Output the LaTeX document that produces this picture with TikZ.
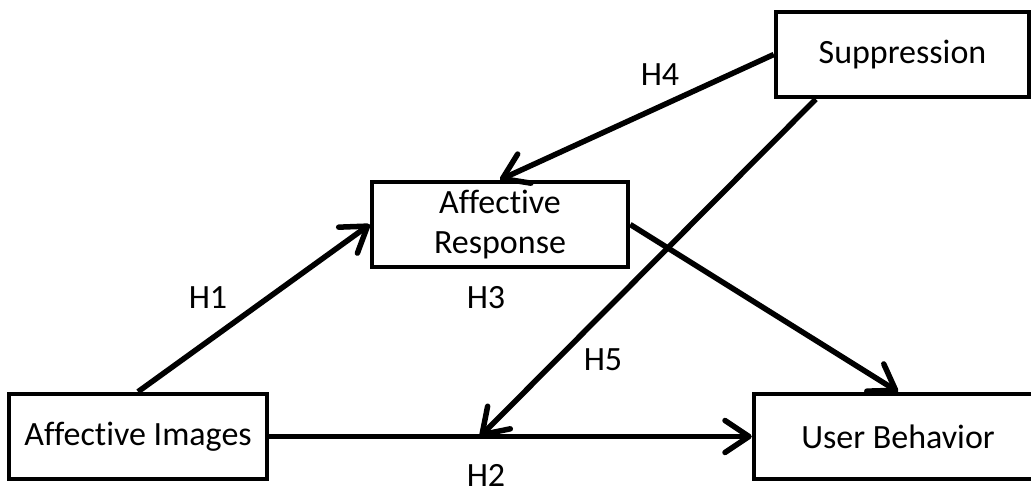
\documentclass[tikz,border=0pt]{standalone}
\usepackage{fontspec}
\setmainfont{Carlito}[Ligatures=NoCommon]
\usetikzlibrary{arrows.meta,calc}
\begin{document}
\begin{tikzpicture}[x=1pt,y=-1pt,
  box/.style={draw,line width=4.5pt,rectangle,minimum height=85pt,inner sep=0pt,
    font=\fontsize{34}{40}\selectfont,align=center},
  link/.style={line width=5.5pt,-{Straight Barb[length=24pt,width=32pt,line cap=round,line join=round]}},
  lbl/.style={font=\fontsize{34}{40}\selectfont,inner sep=0pt}]
\useasboundingbox (0,0) rectangle (1031,494);
\node[box,minimum width=253pt] (sup) at (902.5,54.5) {Suppression};
\node[box,minimum width=256pt] (ar) at (500,224.5) {Affective\\Response};
\node[box,minimum width=258pt] (ai) at (138,436.5) {Affective Images};
\node[box,minimum width=288pt] (ub) at (898,436.5) {User Behavior};
\coordinate (s5) at ($(sup.south west)+(42,0)$);
\path (ai.east) -- coordinate[pos=0.437] (m) (ub.west);
\draw[link] (ai.north) -- (ar.west);
\draw[link] (sup.west) -- (ar.north);
\draw[link] (ar.east) -- (ub.north);
\draw[link] (ai.east) -- (ub.west);
\draw[link] (s5) -- (m);
\node[lbl] (h1) at (208,298) {H1};
\node[lbl] (h3) at (486,298) {H3};
\node[lbl] (h4) at (660,75) {H4};
\node[lbl] (h5) at (603,360) {H5};
\node[lbl] (h2) at (486,475) {H2};
\end{tikzpicture}
\end{document}
